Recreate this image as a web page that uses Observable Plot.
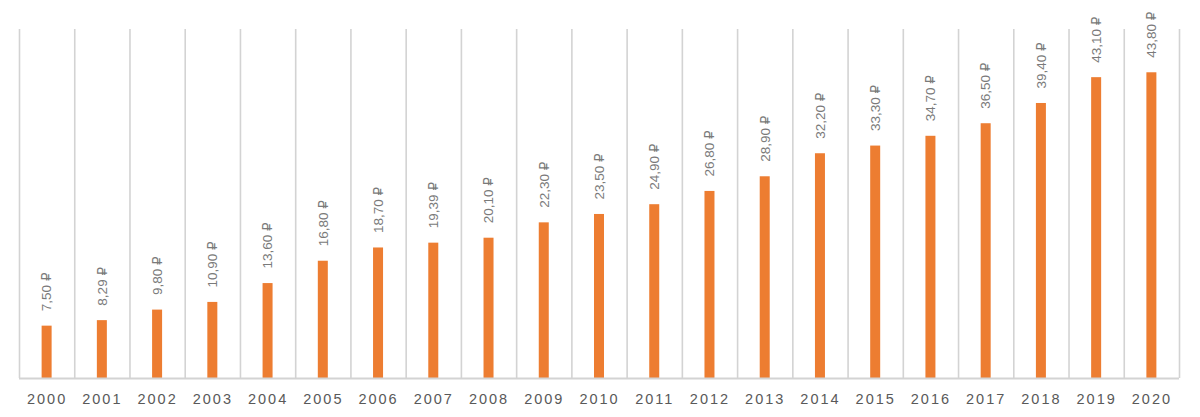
<!DOCTYPE html>
<html>
<head>
<meta charset="utf-8">
<script src="https://cdn.jsdelivr.net/npm/d3@7"></script>
<script src="https://cdn.jsdelivr.net/npm/@observablehq/plot@0.6"></script>
<style>
  html, body { margin: 0; padding: 0; background: #fff; }
  g[aria-label="x-axis tick label"] text { letter-spacing: 2px; }
</style>
</head>
<body>
<div id="chart"></div>
<script>
const years = ["2000","2001","2002","2003","2004","2005","2006","2007","2008","2009","2010","2011","2012","2013","2014","2015","2016","2017","2018","2019","2020"];
const values = [7.50, 8.29, 9.80, 10.90, 13.60, 16.80, 18.70, 19.39, 20.10, 22.30, 23.50, 24.90, 26.80, 28.90, 32.20, 33.30, 34.70, 36.50, 39.40, 43.10, 43.80];
const labels = values.map(v => v.toFixed(2).replace(".", ",") + " ₽");

const data = years.map((y, i) => ({year: y, value: values[i], label: labels[i]}));

const W = 1200, H = 417, mL = 19, mR = 21, mT = 29, mB = 39;
const step = (W - mL - mR) / years.length;
const grid = "#d3d3d3";

const chart = Plot.plot({
  width: W,
  height: H,
  marginLeft: mL,
  marginRight: mR,
  marginTop: mT,
  marginBottom: mB,
  style: {fontFamily: "'Liberation Sans', 'DejaVu Sans', sans-serif", background: "#fff"},
  x: {domain: years, padding: 0, round: false},
  y: {domain: [0, 50]},
  marks: [
    Plot.ruleX(years, {x: d => d, dx: -step / 2, stroke: grid, strokeWidth: 1.6}),
    Plot.ruleX([years[years.length - 1]], {x: d => d, dx: step / 2, stroke: grid, strokeWidth: 1.6}),
    Plot.barY(data, {x: "year", y: "value", fill: "#ED7D31", insetLeft: (step - 10) / 2, insetRight: (step - 10) / 2}),
    Plot.ruleY([0], {stroke: grid, strokeWidth: 2}),
    Plot.text(data, {x: "year", y: "value", text: "label", rotate: -90, textAnchor: "start", dy: -15, fontSize: 13.5, fill: "#7a7a7a"}),
    Plot.axisX({tickSize: 0, tickPadding: 15, fontSize: 14.5, color: "#595959", label: null}),
    Plot.axisY({ticks: [], label: null, tickSize: 0})
  ]
});
document.getElementById("chart").appendChild(chart);
</script>
</body>
</html>
